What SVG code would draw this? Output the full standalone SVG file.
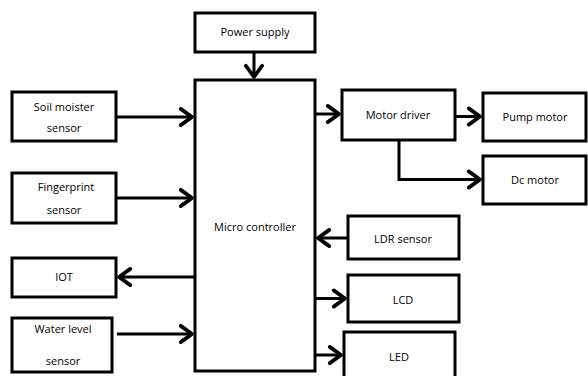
<svg xmlns="http://www.w3.org/2000/svg" width="588" height="376" viewBox="0 0 588 376">
<style>
.box{fill:#fff;stroke:#000;stroke-width:3}
.t{font-family:"Open Sans","DejaVu Sans",sans-serif;font-size:11px;fill:#000;text-anchor:middle}
.c{fill:none;stroke:#000;stroke-width:3;marker-end:url(#ah)}
</style>
<defs>
<marker id="ah" markerUnits="userSpaceOnUse" markerWidth="20" markerHeight="20" refX="0" refY="0" viewBox="-12 -8 14 16" orient="auto" overflow="visible">
<path d="M-9,-6.5 L0,0 L-9,6.5" fill="none" stroke="#000" stroke-width="3" stroke-linejoin="round" stroke-linecap="round"/>
</marker>
</defs>
<rect width="588" height="376" fill="#fff"/>
<g id="connectors">
<path class="c" d="M254,52 V77"/>
<path class="c" d="M116,117 H192"/>
<path class="c" d="M116,198 H192"/>
<path class="c" d="M195,277 H119"/>
<path class="c" d="M117,334 H192"/>
<path class="c" d="M315,114 H339"/>
<path class="c" d="M455,116.5 H480"/>
<path class="c" d="M399,140 V179.5 H480"/>
<path class="c" d="M347,238 H318"/>
<path class="c" d="M315,298.5 H345"/>
<path class="c" d="M315,355 H341"/>
</g>
<g id="power"><rect class="box" x="195" y="13" width="120" height="39"/><text class="t" x="255" y="36">Power supply</text></g>
<g id="mcu"><rect class="box" x="195" y="80" width="120" height="291"/><text class="t" x="255" y="231">Micro  controller</text></g>
<g id="soil"><rect class="box" x="12" y="92" width="104" height="49"/><text class="t" x="64" y="111">Soil moister</text><text class="t" x="64" y="132">sensor</text></g>
<g id="finger"><rect class="box" x="12" y="173" width="104" height="50"/><text class="t" x="66" y="191">Fingerprint</text><text class="t" x="64" y="214">sensor</text></g>
<g id="iot"><rect class="box" x="12" y="258" width="104" height="39"/><text class="t" x="64" y="281">IOT</text></g>
<g id="water"><rect class="box" x="12" y="318" width="100" height="54"/><text class="t" x="63" y="333">Water level</text><text class="t" x="63" y="365">sensor</text></g>
<g id="motordriver"><rect class="box" x="342" y="90" width="113" height="50"/><text class="t" x="398" y="119">Motor  driver</text></g>
<g id="pump"><rect class="box" x="483" y="93" width="103" height="48"/><text class="t" x="535" y="121">Pump motor</text></g>
<g id="dc"><rect class="box" x="483" y="156" width="103" height="48"/><text class="t" x="535" y="184">Dc motor</text></g>
<g id="ldr"><rect class="box" x="348" y="216" width="111" height="43"/><text class="t" x="403" y="243">LDR sensor</text></g>
<g id="lcd"><rect class="box" x="348" y="275" width="111" height="47"/><text class="t" x="403" y="304">LCD</text></g>
<g id="led"><rect class="box" x="344" y="332" width="111" height="50"/><text class="t" x="399" y="361">LED</text></g>
</svg>
